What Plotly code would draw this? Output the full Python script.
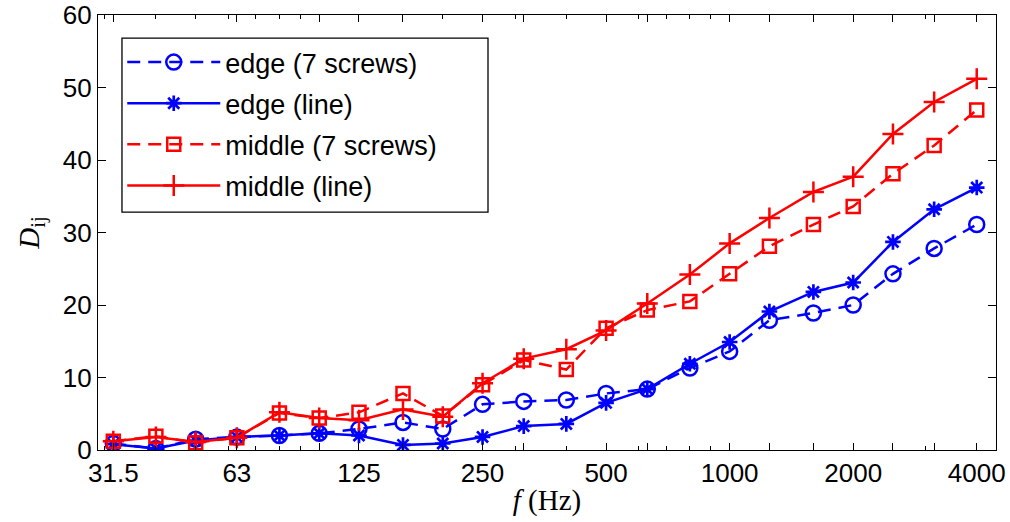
import plotly.graph_objects as go

freqs = [31.5, 40, 50, 63, 80, 100, 125, 160, 200, 250, 315, 400, 500, 630,
         800, 1000, 1250, 1600, 2000, 2500, 3150, 4000]
edge_screws = [0.9, 0.2, 1.5, 1.8, 2.0, 2.3, 2.9, 3.8, 2.9, 6.3, 6.7, 6.9, 7.8, 8.4,
               11.3, 13.6, 17.9, 18.9, 20.0, 24.3, 27.8, 31.1]
edge_line = [0.8, 0.2, 1.3, 1.8, 2.0, 2.3, 2.0, 0.7, 0.9, 1.8, 3.3, 3.6, 6.5, 8.4,
             11.9, 14.9, 19.1, 21.8, 23.1, 28.7, 33.2, 36.2]
middle_screws = [1.2, 1.9, 1.0, 1.7, 5.1, 4.4, 5.2, 7.8, 4.7, 9.0, 12.4, 11.1, 16.8, 19.3,
                 20.5, 24.3, 28.1, 31.1, 33.6, 38.1, 42.0, 46.9]
middle_line = [1.2, 1.8, 1.1, 1.7, 5.2, 4.4, 4.1, 5.6, 4.6, 9.2, 12.6, 13.9, 16.5, 20.2,
               24.2, 28.5, 32.0, 35.6, 37.7, 43.6, 48.0, 51.2]

tick_labels = ["31.5", "", "", "63", "", "", "125", "", "", "250", "", "", "500", "",
               "", "1000", "", "", "2000", "", "", "4000"]
minor_vals = [30, 40, 50, 60, 70, 80, 90, 200, 300, 400, 500, 600, 700, 800, 900,
              2000, 3000, 4000]

BLUE = "rgb(0,0,255)"
RED = "rgb(255,0,0)"
DASH = "13px,8px"

fig = go.Figure()
fig.add_trace(go.Scatter(
    x=freqs, y=edge_screws, name="edge (7 screws)", mode="lines+markers",
    line=dict(color=BLUE, width=2.5, dash=DASH),
    marker=dict(symbol="circle-open", size=15, color=BLUE, line=dict(width=2.5, color=BLUE)),
    legendgroup="a"))
fig.add_trace(go.Scatter(
    x=freqs, y=edge_line, name="edge (line)", mode="lines+markers",
    line=dict(color=BLUE, width=2.5),
    marker=dict(symbol="asterisk-open", size=13, color=BLUE, line=dict(width=2.7, color=BLUE)),
    legendgroup="b"))
fig.add_trace(go.Scatter(
    x=freqs, y=middle_screws, name="middle (7 screws)", mode="lines+markers",
    line=dict(color=RED, width=2.5, dash=DASH),
    marker=dict(symbol="square-open", size=13, color=RED, line=dict(width=2.5, color=RED)),
    legendgroup="c"))
fig.add_trace(go.Scatter(
    x=freqs, y=middle_line, name="middle (line)", mode="lines+markers",
    line=dict(color=RED, width=2.5),
    marker=dict(symbol="cross-thin-open", size=15, color=RED, line=dict(width=2.5, color=RED)),
    legendgroup="d"))

axis_font = dict(family="Liberation Sans, Arial, sans-serif", size=26, color="black")

fig.update_layout(
    width=1010, height=522,
    margin=dict(l=98, r=14, t=15, b=72),
    paper_bgcolor="white", plot_bgcolor="white",
    font=axis_font,
    showlegend=True,
    legend=dict(
        x=0.027, y=0.947, xanchor="left", yanchor="top",
        borderwidth=0, bgcolor="rgba(0,0,0,0)",
        font=dict(family="Liberation Sans, Arial, sans-serif", size=27, color="black"),
        tracegroupgap=3, itemwidth=93,
    ),
    shapes=[dict(type="rect", xref="paper", yref="paper",
                 x0=0.0267, x1=0.4343, y0=0.547, y1=0.947,
                 line=dict(color="black", width=1.3), fillcolor="white", layer="above")],
    xaxis=dict(
        type="log", range=[1.461, 3.649], automargin=False,
        tickmode="array", tickvals=freqs, ticktext=tick_labels,
        ticks="inside", ticklen=7, tickwidth=1, tickcolor="black",
        minor=dict(tickmode="array", tickvals=minor_vals, ticks="inside",
                   ticklen=4, tickcolor="black", showgrid=False),
        showline=True, linecolor="black", linewidth=1.3, mirror="allticks",
        showgrid=False, zeroline=False, tickfont=axis_font,
        title=dict(text="<i>f</i> (Hz)", standoff=2,
                   font=dict(family="Liberation Serif, Times New Roman, serif", size=29, color="black")),
    ),
    yaxis=dict(
        range=[0, 60], automargin=False,
        tickmode="array", tickvals=[0, 10, 20, 30, 40, 50, 60],
        ticks="inside", ticklen=8, tickwidth=1, tickcolor="black",
        showline=True, linecolor="black", linewidth=1.3, mirror="allticks",
        showgrid=False, zeroline=False, tickfont=axis_font,
        title=dict(text="<i>D</i><sub>ij</sub>", standoff=14,
                   font=dict(family="Liberation Serif, Times New Roman, serif", size=29, color="black")),
    ),
)

fig.write_html("out.html", config={"displayModeBar": False},
               post_script="document.body.style.margin='0';document.body.style.overflow='hidden';")
